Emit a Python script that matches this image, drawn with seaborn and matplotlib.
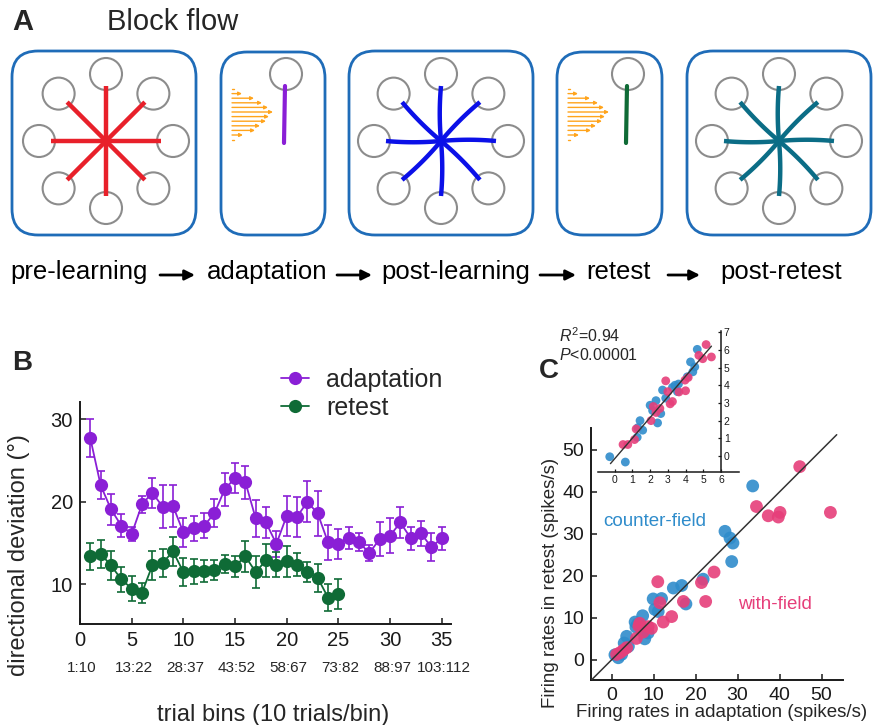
import numpy as np
import pandas as pd
import matplotlib
matplotlib.use("Agg")
import matplotlib.pyplot as plt
import seaborn as sns
from matplotlib.patches import FancyBboxPatch, Circle
from matplotlib.lines import Line2D

# ---------------- Panel B data ----------------
adapt_bins = list(range(1, 36))
adapt_mean = [27.7, 22.0, 19.1, 17.1, 16.1, 19.7, 21.1, 19.4, 19.5, 16.3,
              16.8, 17.1, 18.6, 21.5, 22.9, 22.4, 18.0, 17.5, 14.9, 18.3,
              18.2, 20.0, 18.6, 15.1, 14.9, 15.6, 15.1, 13.8, 15.5, 15.9,
              17.5, 15.6, 16.2, 14.5, 15.6]
adapt_err = [2.3, 1.7, 1.9, 1.4, 0.9, 1.0, 1.8, 2.6, 2.6, 1.8,
             1.5, 1.5, 1.7, 2.0, 1.8, 2.0, 2.2, 1.9, 1.6, 2.4,
             2.4, 2.5, 2.7, 2.1, 1.8, 1.3, 1.1, 1.0, 2.1, 2.1,
             1.9, 1.4, 1.5, 1.7, 1.4]
retest_bins = list(range(1, 26))
retest_mean = [13.4, 13.7, 12.3, 10.6, 9.5, 9.0, 12.3, 12.6, 14.0, 11.5,
               11.6, 11.6, 11.7, 12.5, 12.2, 13.4, 11.5, 12.9, 12.4, 12.8,
               12.4, 11.5, 10.8, 8.4, 8.8]
retest_err = [1.6, 1.7, 1.8, 1.5, 1.5, 1.2, 1.8, 1.7, 1.8, 1.7,
              1.5, 1.3, 1.2, 1.1, 1.3, 1.9, 1.9, 2.0, 1.5, 1.9,
              1.4, 1.2, 1.7, 1.6, 1.8]
b_xticks = [0, 5, 10, 15, 20, 25, 30, 35]
b_yticks = [10, 20, 30]
trial_labels = ["1:10", "13:22", "28:37", "43:52", "58:67", "73:82", "88:97", "103:112"]

# ---------------- Panel C data ----------------
cf_x = [33.6, 27.0, 28.2, 28.9, 28.6, 21.8, 14.7, 16.7, 17.7, 9.9, 11.9, 11.1, 10.3,
        7.4, 5.6, 6.2, 7.1, 8.7, 7.9, 3.6, 3.0, 4.0, 0.8, 1.6, 2.4, 5.8]
cf_y = [41.4, 30.6, 29.0, 27.8, 23.4, 19.2, 17.1, 17.7, 13.3, 14.5, 14.6, 11.5, 12.0,
        10.5, 9.0, 8.5, 7.2, 6.4, 5.0, 5.6, 4.0, 3.2, 1.2, 0.5, 1.3, 7.8]
wf_x = [44.8, 34.5, 37.3, 39.7, 40.1, 52.1, 24.4, 21.4, 22.4, 11.0, 11.5, 17.1,
        14.3, 12.3, 6.7, 8.7, 5.9, 7.5, 2.0, 2.8, 3.6, 1.2, 6.5, 9.5]
wf_y = [46.0, 36.5, 34.3, 34.0, 35.1, 35.1, 20.9, 18.4, 13.9, 18.6, 13.6, 13.9,
        10.3, 9.0, 8.7, 7.9, 5.1, 6.6, 1.7, 2.3, 2.9, 1.3, 8.0, 7.5]
diag_x = [-4.9, 53.6]
diag_y = [-4.9, 53.6]
c_ticks = [0, 10, 20, 30, 40, 50]

# inset data
cf_ix = [-0.28, 0.6, 1.43, 1.3, 1.58, 1.27, 2.0, 2.14, 2.33, 2.42, 2.6, 2.7, 2.88,
         3.26, 3.4, 3.6, 3.54, 4.28, 4.41, 4.52, 4.66, 4.1]
cf_iy = [-0.04, -0.34, 2.0, 1.6, 1.46, 1.06, 2.87, 2.57, 3.13, 1.87, 2.4, 3.73, 3.27,
         3.88, 4.0, 4.07, 3.64, 5.32, 4.76, 5.04, 6.03, 4.48]
wf_ix = [0.47, 0.74, 1.12, 1.21, 2.05, 2.18, 2.33, 2.55, 2.88, 3.0, 3.13, 3.26,
         3.63, 4.0, 3.97, 4.15, 4.75, 4.97, 5.16, 5.46]
wf_iy = [0.65, 0.65, 0.93, 1.53, 2.0, 2.8, 2.46, 2.69, 4.25, 3.64, 2.95, 3.08,
         3.62, 3.69, 4.29, 4.44, 5.69, 5.5, 6.3, 5.6]
fit_ix = [-0.24, 5.46]
fit_iy = [-0.43, 6.21]
inset_xticks = [0, 1, 2, 3, 4, 5, 6]
inset_yticks = [0, 1, 2, 3, 4, 5, 6, 7]

# ---------------- Panel A diagram content ----------------
block_names = ["pre-learning", "adaptation", "post-learning", "retest", "post-retest"]
field_lengths = [2, 10, 22, 30, 36, 41, 37, 34, 28, 23, 11, 2]

PURPLE = "#8a1fd6"
GREEN = "#0f6b36"
BLUE_PT = "#2f8ccb"
PINK_PT = "#e63f7a"

sns.set_theme(style="ticks")
plt.rcParams["font.family"] = ["Liberation Sans", "DejaVu Sans"]
plt.rcParams["mathtext.fontset"] = "custom"
plt.rcParams["mathtext.rm"] = "Liberation Sans"
plt.rcParams["mathtext.it"] = "Liberation Sans:italic"
plt.rcParams["axes.edgecolor"] = "#1a1a1a"
plt.rcParams["xtick.color"] = "#1a1a1a"
plt.rcParams["ytick.color"] = "#1a1a1a"

W, H = 874, 725
fig = plt.figure(figsize=(W / 100, H / 100), dpi=100)

# ================= Panel A =================
axA = fig.add_axes([0, 1 - 300 / H, 1, 300 / H])
axA.set_xlim(0, W)
axA.set_ylim(300, 0)
axA.axis("off")

box_edge = "#1f6cb8"
boxes = [(12, 51, 184, 184), (221, 52, 104, 183), (349, 51, 184, 184),
         (557, 52, 105, 183), (687, 51, 184, 184)]
for (x0, y0, w, h) in boxes:
    axA.add_patch(FancyBboxPatch((x0, y0), w, h, boxstyle="round,pad=0,rounding_size=26",
                                 fc="none", ec=box_edge, lw=2.0))

def draw_star(cx, cy, color, bend):
    for k in range(8):
        ang = np.deg2rad(90 + 45 * k)
        tx, ty = cx + 67 * np.cos(ang), cy - 67 * np.sin(ang)
        axA.add_patch(Circle((tx, ty), 16, fc="none", ec="#8c8c8c", lw=1.5))
        ex, ey = cx + 55 * np.cos(ang), cy - 55 * np.sin(ang)
        t = np.linspace(0, 1, 30)
        px, py = -np.sin(ang), -np.cos(ang)
        mx, my = (cx + ex) / 2 + bend * px, (cy + ey) / 2 + bend * py
        xs = (1 - t) ** 2 * cx + 2 * (1 - t) * t * mx + t ** 2 * ex
        ys = (1 - t) ** 2 * cy + 2 * (1 - t) * t * my + t ** 2 * ey
        axA.plot(xs, ys, color=color, lw=3.2, solid_capstyle="butt")

draw_star(106, 141, "#e8202a", 0)
draw_star(441, 141, "#0b10e8", 2.5)
draw_star(779, 141, "#0b6d86", 2.5)

def draw_single(bx, circ_x, line_color):
    axA.add_patch(Circle((circ_x, 74), 16, fc="none", ec="#8c8c8c", lw=1.5))
    axA.plot([circ_x - 1, circ_x - 2], [86, 143], color=line_color, lw=3.0)
    for i, L in enumerate(field_lengths):
        y = 89 + i * 4.6
        if L < 4:
            axA.plot([bx, bx + L], [y, y], color="#ffa41c", lw=1.0)
        else:
            axA.annotate("", xy=(bx + L, y), xytext=(bx, y),
                         arrowprops=dict(arrowstyle="-|>", color="#ffa41c", lw=1.0,
                                         mutation_scale=5, shrinkA=0, shrinkB=0))

draw_single(232, 286, PURPLE)
draw_single(568, 628, GREEN)

label_x = [10, 207, 381, 586, 720]
for nm, lx in zip(block_names, label_x):
    axA.text(lx, 272, nm, fontsize=18.5, ha="left", va="center", color="black")
arrow_spans = [(160, 195), (337, 372), (540, 576), (668, 700)]
for (a0, a1) in arrow_spans:
    axA.annotate("", xy=(a1, 275), xytext=(a0, 275),
                 arrowprops=dict(arrowstyle="-|>", color="black", lw=2.0,
                                 mutation_scale=15, shrinkA=0, shrinkB=0))

fig.text(12 / W, 1 - 22 / H, "A", fontsize=21, fontweight="bold", va="center")
fig.text(107 / W, 1 - 22 / H, "Block flow", fontsize=21, va="center")

# ================= Panel B =================
axB = fig.add_axes([80 / W, 1 - 624 / H, 371 / W, 222 / H])
df_b = pd.concat([
    pd.DataFrame({"bin": adapt_bins, "dev": adapt_mean, "cond": "adaptation"}),
    pd.DataFrame({"bin": retest_bins, "dev": retest_mean, "cond": "retest"}),
])
axB.errorbar(adapt_bins, adapt_mean, yerr=adapt_err, fmt="none", ecolor=PURPLE,
             elinewidth=1.2, capsize=3, capthick=1.2, zorder=2)
axB.errorbar(retest_bins, retest_mean, yerr=retest_err, fmt="none", ecolor=GREEN,
             elinewidth=1.2, capsize=3, capthick=1.2, zorder=2)
sns.lineplot(data=df_b, x="bin", y="dev", hue="cond",
             palette={"adaptation": PURPLE, "retest": GREEN},
             marker="o", markersize=9.5, markeredgewidth=0, lw=1.3,
             ax=axB, legend=False, zorder=3)
axB.set_xlim(0, 35.9)
axB.set_ylim(5.2, 32.1)
axB.set_xticks(b_xticks)
axB.set_yticks(b_yticks)
axB.tick_params(direction="in", length=4, width=1.1, labelsize=14.5, pad=5)
for s in ["top", "right"]:
    axB.spines[s].set_visible(False)
for s in ["left", "bottom"]:
    axB.spines[s].set_linewidth(1.4)
for xt, lab in zip(b_xticks, trial_labels):
    axB.text(xt + 0.2, -0.2, lab, transform=axB.get_xaxis_transform(),
             ha="center", va="center", fontsize=11)
axB.set_xlabel("trial bins (10 trials/bin)", fontsize=17)
axB.set_ylabel("directional deviation (°)", fontsize=17)
axB.xaxis.set_label_coords(0.52, -0.36)
axB.yaxis.set_label_coords(-0.135, 0.31)

handles = [Line2D([0], [0], color=PURPLE, marker="o", markersize=9.5, mew=0, lw=1.3),
           Line2D([0], [0], color=GREEN, marker="o", markersize=9.5, mew=0, lw=1.3)]
fig.legend(handles, ["adaptation", "retest"], loc="upper left",
           bbox_to_anchor=(281 / W, 1 - 368 / H), bbox_transform=fig.transFigure,
           frameon=False, fontsize=18, handlelength=1.1, handletextpad=0.7,
           labelspacing=0.16, borderpad=0, borderaxespad=0)
fig.text(12 / W, 1 - 363 / H, "B", fontsize=20, fontweight="bold", va="center")

# ================= Panel C =================
axC = fig.add_axes([591 / W, 1 - 680 / H, 252 / W, 252 / H])
sns.scatterplot(x=cf_x, y=cf_y, color=BLUE_PT, s=85, edgecolor="none", alpha=0.9,
                ax=axC, zorder=3)
sns.scatterplot(x=wf_x, y=wf_y, color=PINK_PT, s=85, edgecolor="none", alpha=0.9,
                ax=axC, zorder=3)
axC.plot(diag_x, diag_y, color="#333333", lw=1.1, zorder=4)
axC.set_xlim(-4.9, 55.1)
axC.set_ylim(-4.8, 55.2)
axC.set_xticks(c_ticks)
axC.set_yticks(c_ticks)
axC.tick_params(direction="in", length=4, width=1.1, labelsize=14, pad=5)
for s in ["top", "right"]:
    axC.spines[s].set_visible(False)
for s in ["left", "bottom"]:
    axC.spines[s].set_linewidth(1.4)
axC.text(-2.1, 32.9, "counter-field", color=BLUE_PT, fontsize=13.5, va="center")
axC.text(30.1, 13.1, "with-field", color=PINK_PT, fontsize=13.5, va="center")
axC.set_xlabel("Firing rates in adaptation (spikes/s)", fontsize=13.5)
axC.set_ylabel("Firing rates in retest (spikes/s)", fontsize=13.5)
axC.xaxis.set_label_coords(0.52, -0.095)
axC.yaxis.set_label_coords(-0.128, 0.385)
fig.text(539 / W, 1 - 371 / H, "C", fontsize=20, fontweight="bold", va="center")

# inset
axI = fig.add_axes([597.7 / W, 1 - 472.3 / H, 141 / W, 141 / H])
axI.patch.set_visible(False)
sns.scatterplot(x=cf_ix, y=cf_iy, color=BLUE_PT, s=40, edgecolor="none", alpha=0.9,
                ax=axI, zorder=3)
sns.scatterplot(x=wf_ix, y=wf_iy, color=PINK_PT, s=40, edgecolor="none", alpha=0.9,
                ax=axI, zorder=3)
axI.plot(fit_ix, fit_iy, color="#333333", lw=1.0, zorder=4)
axI.set_xlim(-0.96, 7.0)
axI.set_ylim(-0.92, 7.05)
axI.set_xticks(inset_xticks)
axI.set_yticks(inset_yticks)
axI.spines["top"].set_visible(False)
axI.spines["left"].set_visible(False)
axI.spines["right"].set_position(("data", 6))
axI.spines["right"].set_linewidth(1.1)
axI.spines["bottom"].set_linewidth(1.1)
axI.yaxis.tick_right()
axI.tick_params(direction="in", length=2.5, width=0.9, labelsize=7.5, pad=2)
fig.text(559 / W, 1 - 336 / H, r"$R^2$=0.94", fontsize=11.5, va="center")
fig.text(559 / W, 1 - 355 / H, r"$P$<0.00001", fontsize=11.5, va="center")

fig.savefig("out.png", dpi=100)
